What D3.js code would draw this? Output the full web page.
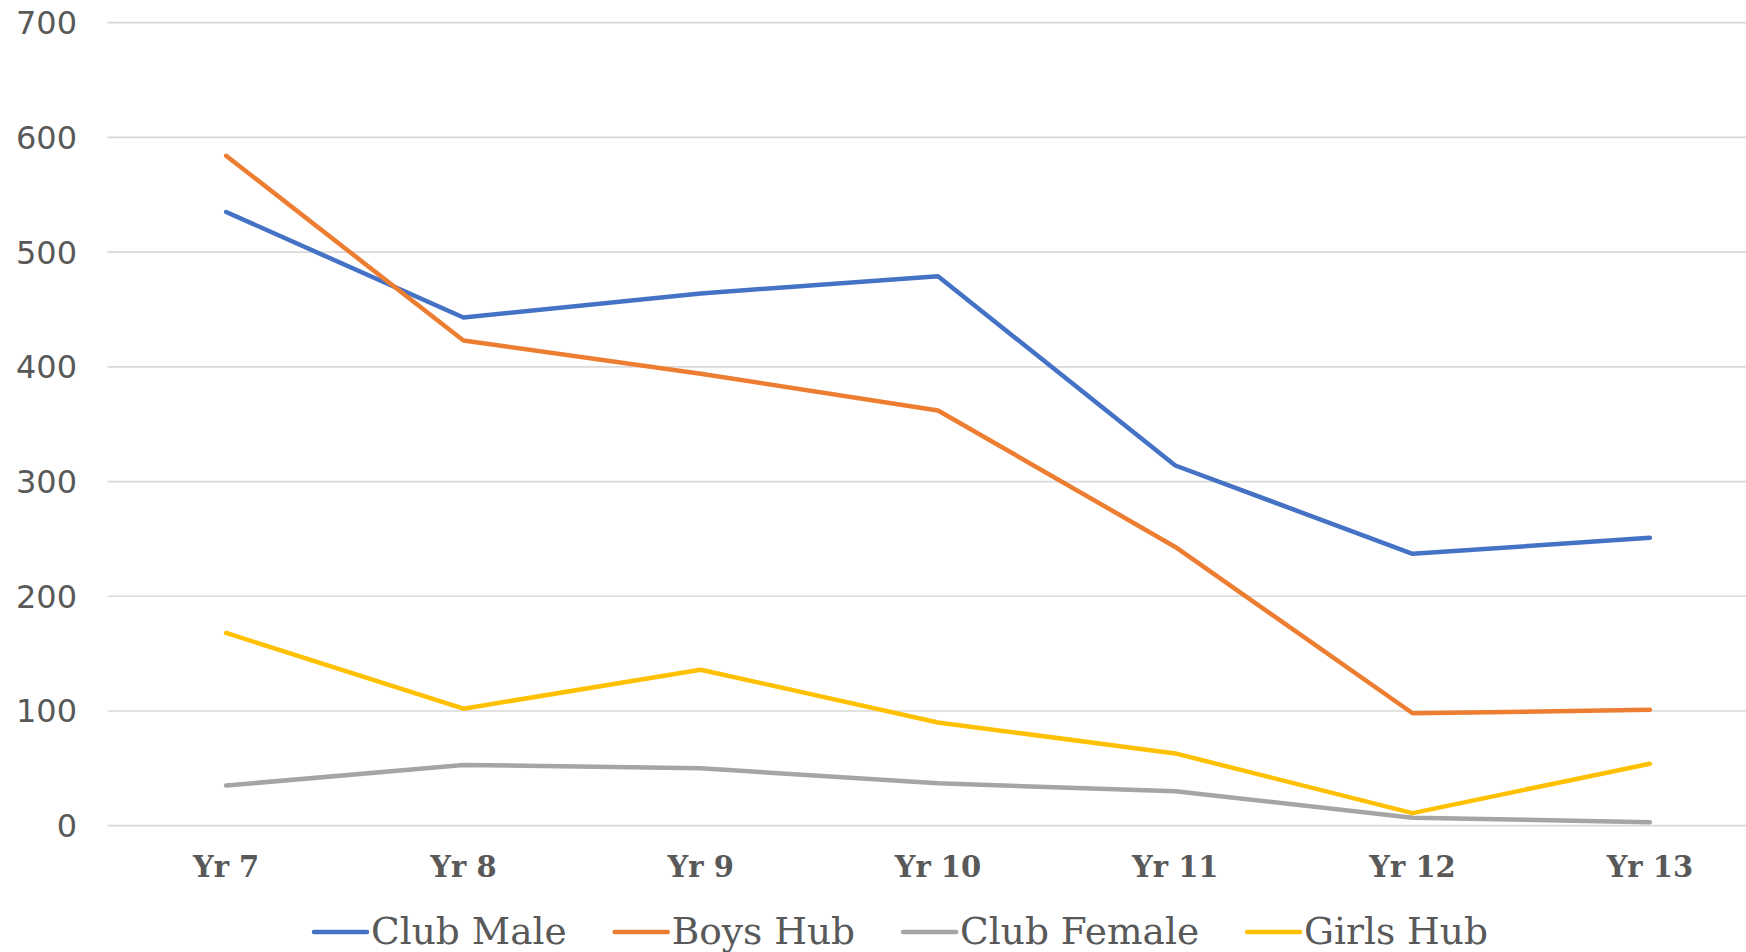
<!DOCTYPE html>
<html>
<head>
<meta charset="utf-8">
<script src="https://cdn.jsdelivr.net/npm/d3@7"></script>
<style>
  html, body { margin: 0; padding: 0; background: #ffffff; overflow: hidden; }
  svg { display: block; }
</style>
</head>
<body>
<svg id="chart" width="1746" height="952"></svg>
<script>
const categories = ["Yr 7", "Yr 8", "Yr 9", "Yr 10", "Yr 11", "Yr 12", "Yr 13"];
const clubMale   = [535, 443, 464, 479, 314, 237, 251];
const boysHub    = [584, 423, 394, 362, 243, 98, 101];
const clubFemale = [35, 53, 50, 37, 30, 7, 3];
const girlsHub   = [168, 102, 136, 90, 63, 11, 54];
const yTicks = [0, 100, 200, 300, 400, 500, 600, 700];

const series = [
  { name: "Club Male",   values: clubMale,   color: "#4472C4" },
  { name: "Boys Hub",    values: boysHub,    color: "#ED7D31" },
  { name: "Club Female", values: clubFemale, color: "#A5A5A5" },
  { name: "Girls Hub",   values: girlsHub,   color: "#FFC000" }
];

const svg = d3.select("#chart");
const plotLeft = 107.5, plotRight = 1768.5, plotTop = 22.7, plotBottom = 825.7;

const x = d3.scaleBand().domain(categories).range([plotLeft, plotRight]).padding(0);
const cx = c => x(c) + x.bandwidth() / 2;
const y = d3.scaleLinear().domain([0, 700]).range([plotBottom, plotTop]);

// gridlines
svg.append("g").selectAll("line").data(yTicks).join("line")
  .attr("x1", plotLeft).attr("x2", plotRight)
  .attr("y1", d => y(d)).attr("y2", d => y(d))
  .attr("stroke", "#d9d9d9").attr("stroke-width", 1.7);

// y labels
const yAxis = d3.axisLeft(y).tickValues(yTicks).tickSize(0).tickPadding(0);
const gy = svg.append("g").attr("transform", `translate(77,0)`).call(yAxis);
gy.select(".domain").remove();
gy.selectAll("text")
  .attr("font-family", "'DejaVu Sans', sans-serif")
  .attr("font-size", 32)
  .attr("fill", "#595959")
  .attr("dy", null)
  .attr("dominant-baseline", "central");

// x labels
const xAxis = d3.axisBottom(x).tickSize(0).tickPadding(0);
const gx = svg.append("g").call(xAxis);
gx.select(".domain").remove();
gx.selectAll("text")
  .attr("y", 877)
  .attr("dy", null)
  .attr("font-family", "'DejaVu Serif', serif")
  .attr("font-weight", "bold")
  .attr("font-size", 29)
  .attr("fill", "#595959");

// lines
const line = d3.line()
  .x((d, i) => cx(categories[i]))
  .y(d => y(d));

svg.append("g").selectAll("path").data(series).join("path")
  .attr("d", d => line(d.values))
  .attr("fill", "none")
  .attr("stroke", d => d.color)
  .attr("stroke-width", 4.5)
  .attr("stroke-linecap", "round")
  .attr("stroke-linejoin", "round");

// legend
const legend = svg.append("g");
const items = legend.selectAll("g").data(series).join("g");
items.append("line")
  .attr("x1", 0).attr("x2", 53)
  .attr("y1", 932).attr("y2", 932)
  .attr("stroke", d => d.color)
  .attr("stroke-width", 4.5)
  .attr("stroke-linecap", "round");
items.append("text")
  .attr("x", 57).attr("y", 944)
  .attr("font-family", "'DejaVu Serif', serif")
  .attr("font-size", 37.5)
  .attr("fill", "#595959")
  .text(d => d.name);

let widths = [];
items.each(function() {
  widths.push(57 + d3.select(this).select("text").node().getComputedTextLength());
});
const gap = 48;
const total = d3.sum(widths) + gap * (widths.length - 1);
let start = 901 - total / 2;
items.attr("transform", (d, i) => {
  const t = `translate(${start},0)`;
  start += widths[i] + gap;
  return t;
});
</script>
</body>
</html>
